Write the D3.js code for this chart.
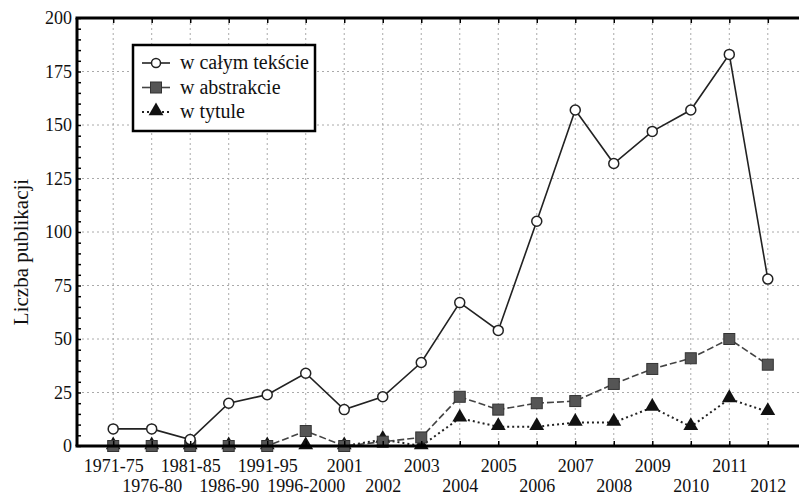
<!DOCTYPE html>
<html>
<head>
<meta charset="utf-8">
<script src="https://cdn.jsdelivr.net/npm/d3@7"></script>
<style>
  html, body { margin: 0; padding: 0; background: #fff; }
  svg { display: block; }
  svg text { font-family: 'Liberation Serif', 'DejaVu Serif', serif; }
</style>
</head>
<body>
<div id="chart"></div>
<script>
const categories = ['1971-75', '1976-80', '1981-85', '1986-90', '1991-95', '1996-2000', '2001', '2002', '2003',
  '2004', '2005', '2006', '2007', '2008', '2009', '2010', '2011', '2012'];
const fullText = [8, 8, 3, 20, 24, 34, 17, 23, 39, 67, 54, 105, 157, 132, 147, 157, 183, 78];
const abstractVals = [0, 0, 0, 0, 0, 7, 0, 2, 4, 23, 17, 20, 21, 29, 36, 41, 50, 38];
const titleVals = [0, 0, 0, 0, 0, 0, 0, 3, 0, 13, 9, 9, 11, 11, 18, 9, 22, 16];
const yTicks = [0, 25, 50, 75, 100, 125, 150, 175, 200];
const seriesNames = ['w całym tekście', 'w abstrakcie', 'w tytule'];

const W = 799, H = 495;
const M = { top: 18, right: 0, bottom: 49, left: 77 };
const innerH = H - M.top - M.bottom;

const svg = d3.select('#chart').append('svg').attr('width', W).attr('height', H);
const g = svg.append('g').attr('transform', `translate(${M.left},${M.top})`);

const x = d3.scalePoint().domain(categories).range([0, 727]).padding(0.94);
const y = d3.scaleLinear().domain([0, 200]).range([innerH, 0]);
const innerW = W - M.left;

// grid
g.append('g').selectAll('line').data(yTicks.slice(1, -1)).join('line')
  .attr('x1', 0).attr('x2', innerW)
  .attr('y1', d => y(d)).attr('y2', d => y(d))
  .attr('stroke', '#aaa').attr('stroke-width', 1).attr('stroke-dasharray', '2,3');
g.append('g').selectAll('line').data(categories).join('line')
  .attr('x1', d => x(d)).attr('x2', d => x(d))
  .attr('y1', 0).attr('y2', innerH)
  .attr('stroke', '#aaa').attr('stroke-width', 1).attr('stroke-dasharray', '2,3');

// series
const lineFor = vals => d3.line().x((d, i) => x(categories[i])).y(d => y(d))(vals);

g.append('path').attr('d', lineFor(titleVals)).attr('fill', 'none')
  .attr('stroke', '#222').attr('stroke-width', 2).attr('stroke-dasharray', '2,3');
g.append('path').attr('d', lineFor(abstractVals)).attr('fill', 'none')
  .attr('stroke', '#444').attr('stroke-width', 1.6).attr('stroke-dasharray', '7,3');
g.append('path').attr('d', lineFor(fullText)).attr('fill', 'none')
  .attr('stroke', '#222').attr('stroke-width', 1.6);

const tri = d3.symbol().type(d3.symbolTriangle).size(95);
g.append('g').selectAll('path').data(titleVals).join('path')
  .attr('d', tri)
  .attr('transform', (d, i) => `translate(${x(categories[i])},${y(d) - 1})`)
  .attr('fill', '#111');

g.append('g').selectAll('rect').data(abstractVals).join('rect')
  .attr('x', (d, i) => x(categories[i]) - 5.5)
  .attr('y', d => y(d) - 5.5)
  .attr('width', 11).attr('height', 11)
  .attr('fill', '#555').attr('stroke', '#333').attr('stroke-width', 1);

g.append('g').selectAll('circle').data(fullText).join('circle')
  .attr('cx', (d, i) => x(categories[i])).attr('cy', d => y(d))
  .attr('r', 5).attr('fill', '#fff').attr('stroke', '#222').attr('stroke-width', 1.5);

// axes
const yAxis = g.append('g').call(d3.axisLeft(y).tickValues(d3.range(0, 201, 5)).tickSize(-4).tickFormat(d => yTicks.includes(d) ? d : ''));
yAxis.select('.domain').remove();
yAxis.attr('font-family', null);
yAxis.selectAll('line').attr('stroke', '#000').attr('stroke-width', 1.5);
yAxis.selectAll('text').attr('font-size', 18).attr('fill', '#111').attr('x', -5);

const xAxis = g.append('g').attr('transform', `translate(0,${innerH})`)
  .call(d3.axisBottom(x).tickSize(-5).tickSizeOuter(0));
xAxis.select('.domain').remove();
xAxis.attr('font-family', null);
xAxis.selectAll('line').attr('stroke', '#000').attr('stroke-width', 1.5);
xAxis.selectAll('text').attr('font-size', 18).attr('fill', '#111')
  .attr('dy', null).attr('y', (d, i) => i % 2 === 0 ? 26 : 46);

const topAxis = g.append('g').call(d3.axisTop(x).tickSize(-5).tickFormat(''));
topAxis.select('.domain').remove();
topAxis.selectAll('line').attr('stroke', '#000').attr('stroke-width', 1.5);

// frame lines
g.append('line').attr('x1', 0).attr('x2', 0).attr('y1', 0).attr('y2', innerH).attr('stroke', '#000').attr('stroke-width', 3);
g.append('line').attr('x1', -1.5).attr('x2', innerW).attr('y1', innerH).attr('y2', innerH).attr('stroke', '#000').attr('stroke-width', 3);
g.append('line').attr('x1', -1.5).attr('x2', innerW).attr('y1', 0).attr('y2', 0).attr('stroke', '#000').attr('stroke-width', 3);

// y label
svg.append('text')
  .attr('transform', 'translate(28,252) rotate(-90)')
  .attr('text-anchor', 'middle')
  .attr('font-size', 21).attr('fill', '#111')
  .text('Liczba publikacji');

// legend
const lg = svg.append('g').attr('transform', 'translate(133,45)');
lg.append('rect').attr('width', 182).attr('height', 86)
  .attr('fill', '#fff').attr('stroke', '#000').attr('stroke-width', 2.5);
[0, 1, 2].forEach(i => {
  const cy = 18 + i * 24.5;
  const line = lg.append('line').attr('x1', 9).attr('x2', 37).attr('y1', cy).attr('y2', cy);
  if (i === 0) {
    line.attr('stroke', '#222').attr('stroke-width', 1.6);
    lg.append('circle').attr('cx', 23).attr('cy', cy).attr('r', 4.5).attr('fill', '#fff').attr('stroke', '#222').attr('stroke-width', 1.5);
  } else if (i === 1) {
    line.attr('stroke', '#444').attr('stroke-width', 1.6);
    lg.append('rect').attr('x', 17.5).attr('y', cy - 5.5).attr('width', 11).attr('height', 11).attr('fill', '#555').attr('stroke', '#333');
  } else {
    line.attr('stroke', '#222').attr('stroke-width', 2).attr('stroke-dasharray', '2,3');
    lg.append('path').attr('d', tri).attr('transform', `translate(23,${cy - 1})`).attr('fill', '#111');
  }
  lg.append('text').attr('x', 47).attr('y', cy + 6)
    .attr('font-size', 20).attr('fill', '#111')
    .text(seriesNames[i]);
});
</script>
</body>
</html>
